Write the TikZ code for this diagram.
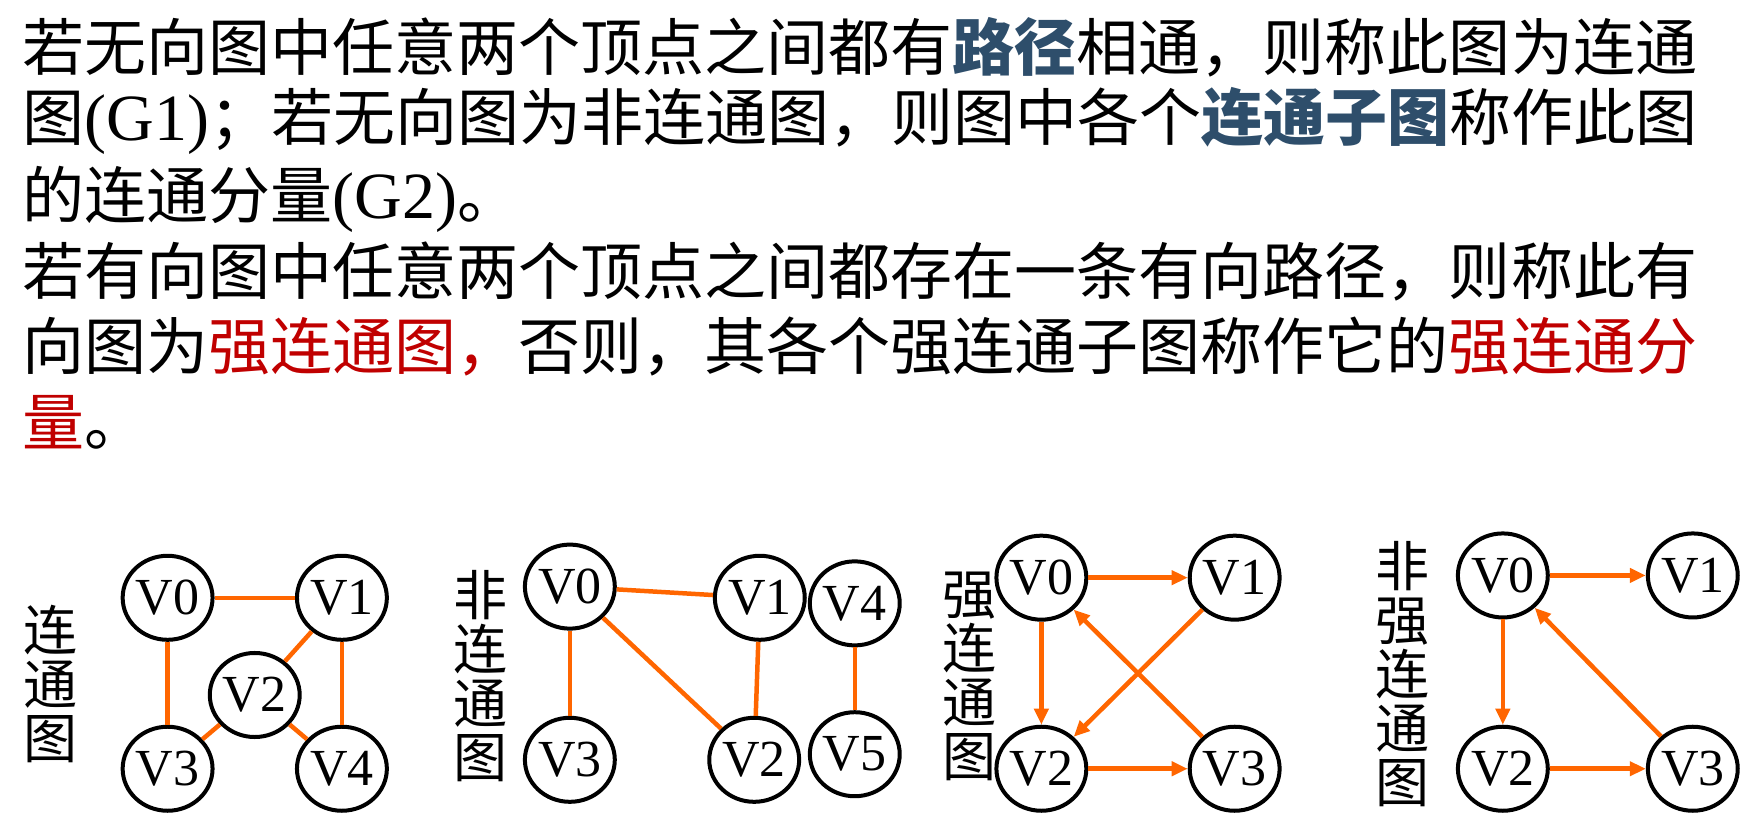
\documentclass[tikz,border=0pt]{standalone}
\usepackage{fontspec}
\setmainfont{Liberation Serif}
\newfontfamily\cjk{Noto Sans CJK SC}
\usetikzlibrary{shapes.geometric,arrows.meta}
\definecolor{edgeor}{HTML}{FF6600}
\definecolor{kwblue}{HTML}{2E4E6B}
\definecolor{kwred}{HTML}{C00000}
\tikzset{
 txt/.style={anchor=west,inner sep=0pt,font=\fontsize{62}{70}\selectfont\cjk},
 lat/.style={},
 vlabel/.style={inner sep=0pt,align=center,font=\fontsize{54}{54}\selectfont\cjk},
 vtx/.style={ellipse,draw,line width=4pt,minimum width=72pt,minimum height=84pt,inner sep=0pt,font=\fontsize{52}{52}\selectfont},
 ed/.style={draw=edgeor,line width=4.5pt},
 ar/.style={ed,-{Triangle[length=16pt,width=14pt]}}
}
\newcommand{\latin}[1]{{\rmfamily\fontsize{66}{70}\selectfont #1}}
\begin{document}
\begin{tikzpicture}[x=1.117pt,y=-1.117pt]
\useasboundingbox (0,0) rectangle (1568,730);
\node[txt] (l1) at (20,42) {若无向图中任意两个顶点之间都有\textcolor{kwblue}{\textbf{路径}}相通，则称此图为连通};
\node[txt] (l2) at (20,108) {图\latin{(G1)}；若无向图为非连通图，则图中各个\textcolor{kwblue}{\textbf{连通子图}}称作此图};
\node[txt] (l3) at (20,178) {的连通分量\latin{(G2)}。};
\node[txt] (l4) at (20,243) {若有向图中任意两个顶点之间都存在一条有向路径，则称此有};
\node[txt] (l5) at (20,310) {向图为\textcolor{kwred}{强连通图，}否则，其各个强连通子图称作它的\textcolor{kwred}{强连通分}};
\node[txt] (l6) at (20,378) {\textcolor{kwred}{量}。};
% graph 1
\node[vlabel] (t1) at (45,612) {连\\通\\图};
\node[vtx] (a0) at (150,535) {V0};
\node[vtx] (a1) at (306,535) {V1};
\node[vtx] (a2) at (228,622) {V2};
\node[vtx] (a3) at (150,688) {V3};
\node[vtx] (a4) at (306,688) {V4};
\draw[ed] (a0) -- (a1);
\draw[ed] (a0) -- (a3);
\draw[ed] (a1) -- (a4);
\draw[ed] (a1) -- (a2);
\draw[ed] (a2) -- (a3);
\draw[ed] (a2) -- (a4);
% graph 2
\node[vlabel] (t2) at (430,605) {非\\连\\通\\图};
\node[vtx] (b0) at (510,525) {V0};
\node[vtx] (b1) at (680,535) {V1};
\node[vtx] (b4) at (765,540) {V4};
\node[vtx] (b3) at (510,680) {V3};
\node[vtx] (b2) at (675,680) {V2};
\node[vtx] (b5) at (765,675) {V5};
\draw[ed] (b0) -- (b1);
\draw[ed] (b0) -- (b3);
\draw[ed] (b0) -- (b2);
\draw[ed] (b1) -- (b2);
\draw[ed] (b4) -- (b5);
% graph 3
\node[vlabel] (t3) at (868,605) {强\\连\\通\\图};
\node[vtx] (c0) at (932,517) {V0};
\node[vtx] (c1) at (1105,517) {V1};
\node[vtx] (c2) at (932,688) {V2};
\node[vtx] (c3) at (1105,688) {V3};
\draw[ar] (c0) -- (c1);
\draw[ar] (c0) -- (c2);
\draw[ar] (c1) -- (c2);
\draw[ar] (c3) -- (c0);
\draw[ar] (c2) -- (c3);
% graph 4
\node[vlabel] (t4) at (1255,603) {非\\强\\连\\通\\图};
\node[vtx] (d0) at (1345,515) {V0};
\node[vtx] (d1) at (1515,515) {V1};
\node[vtx] (d2) at (1345,688) {V2};
\node[vtx] (d3) at (1515,688) {V3};
\draw[ar] (d0) -- (d1);
\draw[ar] (d0) -- (d2);
\draw[ar] (d3) -- (d0);
\draw[ar] (d2) -- (d3);
\end{tikzpicture}
\end{document}
